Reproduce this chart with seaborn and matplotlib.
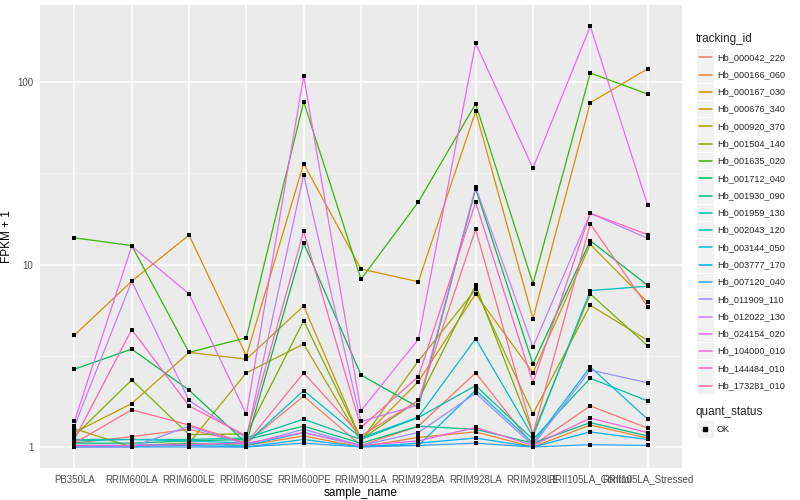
import matplotlib
matplotlib.use('Agg')
import matplotlib.pyplot as plt
from matplotlib.lines import Line2D
from matplotlib.patches import Rectangle
import numpy as np
import pandas as pd
import seaborn as sns

# 樣本與各基因的 FPKM + 1 值
samples = ['PB350LA', 'RRIM600LA', 'RRIM600LE', 'RRIM600SE', 'RRIM600PE', 'RRIM901LA',
           'RRIM928BA', 'RRIM928LA', 'RRIM928LE', 'RRII105LA_Control', 'RRII105LA_Stressed']

hb_000042_220 = [1.05, 1.14, 1.25, 1.05, 1.9, 1.02, 1.3, 2.55, 1.02, 1.68, 1.27]
hb_000166_060 = [1.0, 1.02, 1.05, 1.02, 1.15, 1.0, 1.13, 1.21, 1.0, 1.32, 1.12]
hb_000167_030 = [4.1, 8.1, 14.5, 3.16, 35.7, 9.45, 8.05, 69, 5.05, 77, 118]
hb_000676_340 = [1.2, 1.73, 3.3, 3.03, 5.93, 1.1, 2.28, 6.9, 2.55, 12.9, 6.2]
hb_000920_370 = [1.26, 1.0, 1.05, 2.55, 3.67, 1.08, 2.96, 7.3, 1.52, 5.98, 3.84]
hb_001504_140 = [1.15, 2.33, 1.17, 1.18, 4.92, 1.1, 1.8, 7.7, 1.18, 6.9, 3.59]
hb_001635_020 = [14, 12.7, 3.3, 3.97, 78, 8.3, 22, 76, 7.85, 112, 86]
hb_001712_040 = [2.67, 3.44, 2.05, 1.05, 13.1, 2.48, 1.65, 26, 2.85, 13.5, 7.7]
hb_001930_090 = [1.05, 1.05, 1.08, 1.1, 1.3, 1.05, 1.3, 1.25, 1.05, 1.36, 1.15]
hb_001959_130 = [1.1, 1.1, 1.1, 1.12, 1.42, 1.1, 1.45, 2.17, 1.1, 2.38, 1.79]
hb_002043_120 = [1.08, 1.1, 1.08, 1.05, 2.04, 1.12, 1.46, 3.92, 1.14, 7.2, 7.6]
hb_003144_050 = [1.02, 1.02, 1.04, 1.02, 1.2, 1.02, 1.02, 2.05, 1.05, 2.75, 1.42]
hb_003777_170 = [1.01, 1.01, 1.02, 1.0, 1.1, 1.0, 1.05, 1.12, 1.0, 1.21, 1.1]
hb_007120_040 = [1.0, 1.0, 1.0, 1.0, 1.05, 1.0, 1.02, 1.05, 1.0, 1.03, 1.02]
hb_011909_110 = [1.0, 1.0, 1.3, 1.03, 1.25, 1.02, 1.2, 1.97, 1.02, 2.64, 2.25]
hb_012022_130 = [1.3, 8.1, 1.8, 1.12, 31, 1.38, 1.7, 26.6, 3.53, 19.1, 13.9]
hb_024154_020 = [1.38, 12.6, 6.9, 1.51, 108, 1.58, 3.89, 163, 33.7, 202, 21.2]
hb_104000_010 = [1.02, 1.02, 1.03, 1.05, 1.2, 1.02, 1.08, 1.28, 1.02, 1.44, 1.2]
hb_144484_010 = [1.1, 4.4, 1.68, 1.15, 15.2, 1.28, 2.43, 21.9, 2.25, 19.1, 14.6]
hb_173281_010 = [1.05, 1.6, 1.32, 1.05, 2.55, 1.15, 1.8, 15.6, 1.18, 16.7, 5.87]

tracking_ids = ['Hb_000042_220', 'Hb_000166_060', 'Hb_000167_030', 'Hb_000676_340',
                'Hb_000920_370', 'Hb_001504_140', 'Hb_001635_020', 'Hb_001712_040',
                'Hb_001930_090', 'Hb_001959_130', 'Hb_002043_120', 'Hb_003144_050',
                'Hb_003777_170', 'Hb_007120_040', 'Hb_011909_110', 'Hb_012022_130',
                'Hb_024154_020', 'Hb_104000_010', 'Hb_144484_010', 'Hb_173281_010']
series = [hb_000042_220, hb_000166_060, hb_000167_030, hb_000676_340, hb_000920_370,
          hb_001504_140, hb_001635_020, hb_001712_040, hb_001930_090, hb_001959_130,
          hb_002043_120, hb_003144_050, hb_003777_170, hb_007120_040, hb_011909_110,
          hb_012022_130, hb_024154_020, hb_104000_010, hb_144484_010, hb_173281_010]

# ggplot2 預設色相調色盤 (n = 20)
colors = ['#F8766D', '#EA8331', '#D89000', '#C09B00', '#A3A500', '#7CAE00', '#39B600',
          '#00BB4E', '#00BF7D', '#00C1A3', '#00BFC4', '#00BAE0', '#00B0F6', '#35A2FF',
          '#9590FF', '#C77CFF', '#E76BF3', '#FA62DB', '#FF62BC', '#FF6C91']

rows = []
for tid, vals in zip(tracking_ids, series):
    for s, v in zip(samples, vals):
        rows.append({'tracking_id': tid, 'sample_name': s, 'FPKM + 1': v, 'quant_status': 'OK'})
df = pd.DataFrame(rows)

sns.set_theme(style='darkgrid')
plt.rcParams['font.family'] = ['Liberation Sans', 'DejaVu Sans']

fig = plt.figure(figsize=(8, 5), dpi=100)
ax = fig.add_axes([0.05, 0.064, 0.8025, 0.926])
ax.set_facecolor('#EBEBEB')

sns.lineplot(data=df, x='sample_name', y='FPKM + 1', hue='tracking_id',
             hue_order=tracking_ids, palette=colors, sort=False, estimator=None,
             lw=0.9, legend=False, ax=ax)
sns.scatterplot(data=df, x='sample_name', y='FPKM + 1', color='black', marker='s',
                s=10, linewidth=0, legend=False, ax=ax, zorder=5)

ax.set_yscale('log')
ax.set_ylim(10 ** -0.115, 10 ** 2.422)
ax.set_xlim(-0.6, len(samples) - 0.4)
ax.set_yticks([1, 10, 100])
ax.set_yticklabels(['1', '10', '100'])
ax.set_yticks([10 ** 0.5, 10 ** 1.5], minor=True)
ax.yaxis.set_minor_formatter(matplotlib.ticker.NullFormatter())
ax.set_xticks(range(len(samples)))
ax.set_xticklabels(samples)

ax.grid(which='major', color='white', lw=1.1)
ax.grid(which='minor', axis='y', color='#F5F5F5', lw=0.6)
ax.set_axisbelow(True)
for sp in ax.spines.values():
    sp.set_visible(False)
ax.tick_params(axis='both', which='major', length=2.7, width=0.6, color='#333333',
               labelsize=7, labelcolor='#4D4D4D', pad=2)
ax.tick_params(axis='y', which='minor', length=0)
ax.set_xlabel('sample_name', fontsize=8.5, color='black', labelpad=2)
ax.set_ylabel('FPKM + 1', fontsize=8.5, color='black', labelpad=3)

# 圖例（仿 ggplot 樣式）
W, H = 800, 500
def fx(px):
    return px / W
def fy(py):
    return 1 - py / H

fig.text(fx(696), fy(39), 'tracking_id', fontsize=8.5, va='center', ha='left')
for i, (tid, c) in enumerate(zip(tracking_ids, colors)):
    yc = 57.3 + i * 17.28
    fig.add_artist(Rectangle((fx(697), fy(yc + 8.3)), 16.5 / W, 16.6 / H,
                             facecolor='#F2F2F2', edgecolor='none', transform=fig.transFigure))
    fig.add_artist(Line2D([fx(698.5), fx(712)], [fy(yc), fy(yc)], color=c, lw=1.1,
                          transform=fig.transFigure))
    fig.text(fx(717), fy(yc), tid, fontsize=6.6, va='center', ha='left')

fig.text(fx(696), fy(411.7), 'quant_status', fontsize=8.5, va='center', ha='left')
fig.add_artist(Rectangle((fx(697), fy(429.3 + 8.3)), 16.5 / W, 16.6 / H,
                         facecolor='#F2F2F2', edgecolor='none', transform=fig.transFigure))
fig.add_artist(Line2D([fx(705.2)], [fy(429.3)], color='black', marker='s', markersize=3,
                      lw=0, transform=fig.transFigure))
fig.text(fx(717), fy(429.3), 'OK', fontsize=6.6, va='center', ha='left')

fig.savefig('out.png', dpi=100)
